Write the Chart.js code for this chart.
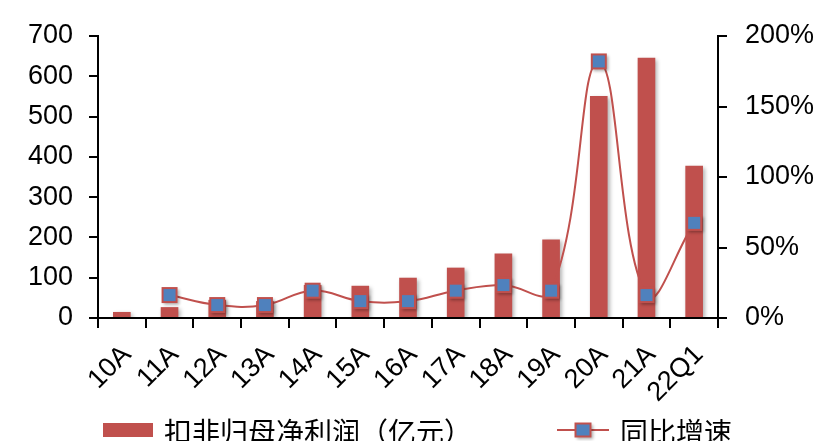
<!DOCTYPE html>
<html>
<head>
<meta charset="utf-8">
<script src="https://cdn.jsdelivr.net/npm/chart.js@4.4.0/dist/chart.umd.min.js"></script>
<style>
  html, body { margin: 0; padding: 0; background: #fff; }
  #wrap { width: 820px; height: 441px; }
</style>
</head>
<body>
<div id="wrap"><canvas id="c" width="820" height="441"></canvas></div>
<script>
// Periods on the category axis
const categories = ['10A', '11A', '12A', '13A', '14A', '15A', '16A', '17A', '18A', '19A', '20A', '21A', '22Q1'];
// Net profit excluding non-recurring items (100 million yuan)
const profit = [15, 27, 45, 42, 82, 80, 100, 125, 160, 195, 551, 646, 378];
// Year-on-year growth (%)
const growth = [null, 16.3, 9.2, 9.2, 19.4, 12, 12, 19.4, 23.4, 19.4, 182, 16.3, 67.5];
// Axis tick values
const leftTicks = [0, 100, 200, 300, 400, 500, 600, 700];
const rightTicks = [0, 50, 100, 150, 200];
// Series names
const seriesNames = ['扣非归母净利润（亿元）', '同比增速'];

const RED = '#C0504D';
const BLUE = '#4F81BD';
const NUM_FONT = "'Liberation Sans', Arial, sans-serif";
const CJK_FONT = "'Noto Sans CJK SC', sans-serif";

// Square marker with a soft drop shadow, drawn once and reused as a point style
function makeMarker(w, h) {
  const pad = 6;
  const cv = document.createElement('canvas');
  cv.width = w + pad * 2;
  cv.height = h + pad * 2;
  const g = cv.getContext('2d');
  g.shadowColor = 'rgba(0,0,0,0.35)';
  g.shadowBlur = 3;
  g.shadowOffsetX = 1.5;
  g.shadowOffsetY = 1.5;
  g.fillStyle = RED;
  g.fillRect(pad, pad, w, h);
  g.shadowColor = 'transparent';
  g.fillStyle = BLUE;
  g.fillRect(pad + 2, pad + 2, w - 4, h - 4);
  return cv;
}
const marker = makeMarker(16, 16);
const legendMarker = makeMarker(17, 15);

// Soft shadow behind the columns
const barShadow = {
  id: 'barShadow',
  beforeDatasetDraw(chart, args) {
    if (args.index !== 0) return;
    const ctx = chart.ctx;
    ctx.save();
    ctx.shadowColor = 'rgba(0,0,0,0.3)';
    ctx.shadowBlur = 4;
    ctx.shadowOffsetX = 2;
    ctx.shadowOffsetY = 2;
  },
  afterDatasetDraw(chart, args) {
    if (args.index !== 0) return;
    chart.ctx.restore();
  }
};

// Legend row under the category labels
const bottomLegend = {
  id: 'bottomLegend',
  afterDraw(chart) {
    const ctx = chart.ctx;
    const ds = chart.data.datasets;
    ctx.save();
    ctx.fillStyle = ds[0].backgroundColor;
    ctx.fillRect(103, 423, 50, 14);
    ctx.font = '28px ' + CJK_FONT;
    ctx.fillStyle = '#000';
    ctx.textBaseline = 'middle';
    ctx.textAlign = 'left';
    ctx.fillText(ds[0].label, 164, 432);

    ctx.strokeStyle = ds[1].borderColor;
    ctx.lineWidth = 2;
    ctx.beginPath();
    ctx.moveTo(557, 430);
    ctx.lineTo(609, 430);
    ctx.stroke();
    ctx.drawImage(legendMarker, 583 - legendMarker.width / 2, 430 - legendMarker.height / 2);
    ctx.fillStyle = '#000';
    ctx.fillText(ds[1].label, 620, 432);
    ctx.restore();
  }
};

const axisLine = { color: '#000', width: 2 };
const tickGrid = { drawOnChartArea: false, drawTicks: true, color: '#000', lineWidth: 2 };

new Chart(document.getElementById('c'), {
  type: 'bar',
  data: {
    labels: categories,
    datasets: [
      {
        type: 'bar',
        label: seriesNames[0],
        data: profit,
        yAxisID: 'y',
        backgroundColor: RED,
        borderWidth: 0,
        categoryPercentage: 1,
        barPercentage: 0.37,
        order: 2
      },
      {
        type: 'line',
        label: seriesNames[1],
        data: growth,
        yAxisID: 'y1',
        borderColor: RED,
        borderWidth: 2,
        tension: 0.42,
        pointStyle: marker,
        pointRadius: 10,
        pointHoverRadius: 10,
        order: 1
      }
    ]
  },
  options: {
    responsive: false,
    animation: false,
    devicePixelRatio: 1,
    layout: { padding: { top: 36, left: 0, right: 0, bottom: 0 } },
    plugins: {
      legend: { display: false },
      tooltip: { enabled: false }
    },
    scales: {
      x: {
        offset: true,
        grid: Object.assign({}, tickGrid, { offset: true, tickLength: 10 }),
        border: axisLine,
        ticks: {
          color: '#000',
          font: { family: NUM_FONT, size: 27 },
          minRotation: 45,
          maxRotation: 45,
          autoSkip: false,
          padding: 11,
          labelOffset: 5
        },
        afterFit(s) { s.height = 123; }
      },
      y: {
        position: 'left',
        min: 0,
        max: 700,
        afterBuildTicks(s) { s.ticks = leftTicks.map(v => ({ value: v })); },
        grid: Object.assign({}, tickGrid, { tickLength: 9 }),
        border: axisLine,
        ticks: {
          color: '#000',
          font: { family: NUM_FONT, size: 27 },
          padding: 16
        },
        afterFit(s) { s.width = 98; }
      },
      y1: {
        position: 'right',
        min: 0,
        max: 200,
        afterBuildTicks(s) { s.ticks = rightTicks.map(v => ({ value: v })); },
        grid: Object.assign({}, tickGrid, { tickLength: 9 }),
        border: axisLine,
        ticks: {
          color: '#000',
          font: { family: NUM_FONT, size: 27 },
          padding: 18,
          callback: v => v + '%'
        },
        afterFit(s) { s.width = 102; }
      }
    }
  },
  plugins: [barShadow, bottomLegend]
});
</script>
</body>
</html>
